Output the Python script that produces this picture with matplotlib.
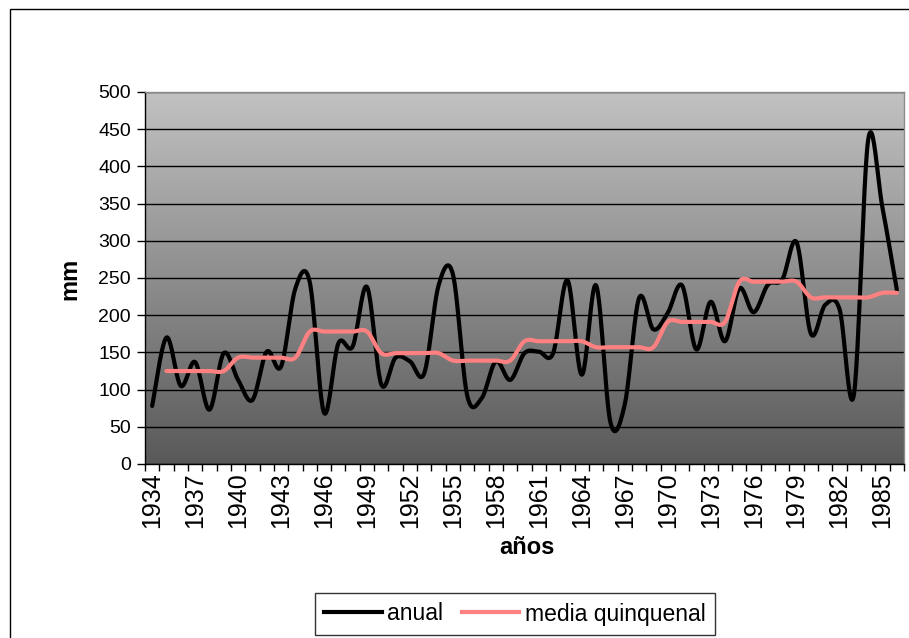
import numpy as np
import matplotlib
matplotlib.use("Agg")
import matplotlib.pyplot as plt
from matplotlib.colors import LinearSegmentedColormap
from matplotlib.patches import Rectangle
from matplotlib.lines import Line2D

plt.rcParams['font.family'] = ['Liberation Sans', 'DejaVu Sans']

# precipitación anual (mm), 1934-1986
years = list(range(1934, 1987))
anual = [78, 170, 105, 137, 73, 149, 113, 86, 151, 131,
         236, 245, 69, 162, 158, 238, 107, 143, 138, 122,
         240, 255, 92, 88, 138, 113, 149, 151, 149, 247,
         120, 240, 56, 80, 223, 181, 203, 240, 154, 218,
         165, 236, 204, 241, 248, 298, 175, 214, 208, 93,
         436, 344, 234]

# media quinquenal, 1935-1986
years_media = list(range(1935, 1987))
media = [125, 125, 125, 125, 125, 143, 143, 143, 143, 143,
         178, 178, 178, 178, 178, 149, 149, 149, 149, 149,
         139, 139, 139, 139, 139, 165, 165, 165, 165, 165,
         157, 157, 157, 157, 157, 191, 191, 191, 191, 191,
         245, 245, 245, 245, 245, 224, 224, 224, 224, 224,
         230, 230]

tick_years = list(range(1934, 1987, 3))


def smooth(x, y, n=24):
    # curva suavizada tipo Excel (Bezier con tangentes de los vecinos)
    x = np.asarray(x, float)
    y = np.asarray(y, float)
    px = np.concatenate([[x[0]], x, [x[-1]]])
    py = np.concatenate([[y[0]], y, [y[-1]]])
    t = np.linspace(0, 1, n, endpoint=False)[:, None]
    xs, ys = [], []
    for i in range(1, len(px) - 2):
        p0 = np.array([px[i - 1], py[i - 1]])
        p1 = np.array([px[i], py[i]])
        p2 = np.array([px[i + 1], py[i + 1]])
        p3 = np.array([px[i + 2], py[i + 2]])
        c1 = p1 + (p2 - p0) / 6
        c2 = p2 - (p3 - p1) / 6
        b = ((1 - t) ** 3) * p1 + 3 * ((1 - t) ** 2) * t * c1 \
            + 3 * (1 - t) * t ** 2 * c2 + t ** 3 * p2
        xs.append(b[:, 0])
        ys.append(b[:, 1])
    xs.append([x[-1]])
    ys.append([y[-1]])
    return np.concatenate(xs), np.concatenate(ys)


W, H = 909, 638
fig = plt.figure(figsize=(W / 100, H / 100), dpi=100)
ax = fig.add_axes([145 / W, 1 - 464 / H, 759 / W, 372 / H])

# fondo degradado del área de trazado
cmap = LinearSegmentedColormap.from_list('fondo', ['#595959', '#c2c2c2'])
grad = np.linspace(0, 1, 256)[:, None]
ax.imshow(grad, cmap=cmap, aspect='auto', extent=[0, 1, 0, 1],
          origin='lower', transform=ax.transAxes, zorder=0)

xa, ya = smooth(years, anual)
xm, ym = smooth(years_media, media)
ax.plot(xa, ya, color='black', lw=3, solid_capstyle='round', zorder=3)
ax.plot(xm, ym, color='#ff8080', lw=3, solid_capstyle='round', zorder=3)

ax.set_xlim(1933.5, 1986.5)
ax.set_ylim(0, 500)
ax.set_yticks(range(0, 501, 50))
ax.set_yticks([], minor=True)
ax.yaxis.grid(True, color='black', lw=1)
ax.set_axisbelow(True)

ax.set_xticks(tick_years)
ax.set_xticklabels([str(y) for y in tick_years], rotation=90, fontsize=18)
ax.set_xticks(np.arange(1933.5, 1987, 1), minor=True)
ax.tick_params(axis='x', which='major', length=0, pad=6)
ax.tick_params(axis='x', which='minor', length=5, width=1, direction='out')
ax.tick_params(axis='y', which='major', length=6, width=1, labelsize=14, pad=4)

for side in ('left', 'bottom'):
    ax.spines[side].set_color('black')
    ax.spines[side].set_linewidth(1)
for side in ('top', 'right'):
    ax.spines[side].set_color('#8c8c8c')
    ax.spines[side].set_linewidth(1)

fig.text(70 / W, 1 - 279 / H, 'mm', rotation=90, fontsize=17,
         fontweight='bold', ha='center', va='center')
fig.text(527 / W, 1 - 548 / H, 'años', fontsize=17,
         fontweight='bold', ha='center', va='center')

handles = [Line2D([], [], color='black', lw=3),
           Line2D([], [], color='#ff8080', lw=3)]
leg = fig.legend(handles, ['anual', 'media quinquenal'], ncol=2,
                 loc='center', bbox_to_anchor=(515 / W, 1 - 614 / H),
                 fontsize=16.5, frameon=True, fancybox=False,
                 handlelength=2.5, handletextpad=0.25, columnspacing=0.8,
                 borderpad=0.4, borderaxespad=0)
leg.get_frame().set_edgecolor('black')
leg.get_frame().set_linewidth(1)

# marco exterior del gráfico
fig.add_artist(Rectangle((9.5 / W, -0.1), 1.0, 1 - 9.5 / H + 0.1,
                         transform=fig.transFigure, fill=False,
                         ec='black', lw=1))

fig.savefig('out.png', dpi=100)
